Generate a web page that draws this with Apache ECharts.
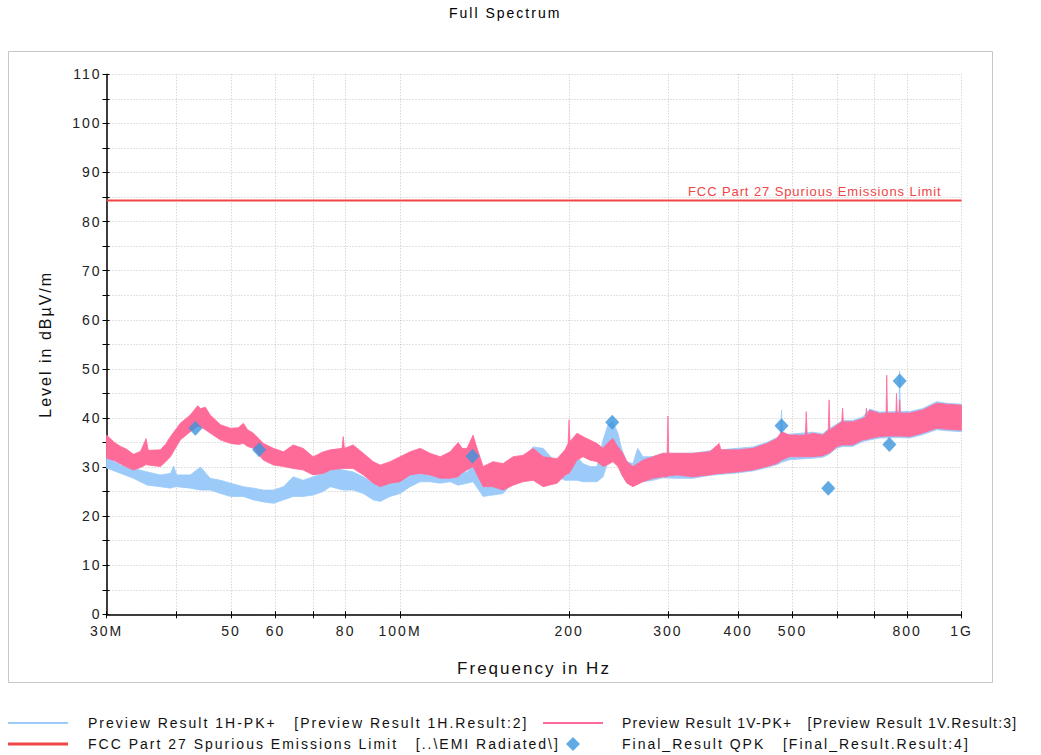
<!DOCTYPE html>
<html><head><meta charset="utf-8">
<script src="https://cdn.jsdelivr.net/npm/echarts@6/dist/echarts.min.js"></script>
<style>html,body{margin:0;padding:0;background:#fff}#c{width:1041px;height:755px}#c text{letter-spacing:2px}#c text[fill="#f04545"]{letter-spacing:0.9px}#c text[fill="#121212"]{letter-spacing:1.2px}</style>
</head><body><div id="c"></div>
<script>
// ---- axis ticks / labels ----
const xTickFreqs = [30,40,50,60,70,80,100,200,300,400,500,600,700,800,1000];
const xLabelFreqs = [30,50,60,80,100,200,300,400,500,800,1000];
const xLabelTexts = ['30M','50','60','80','100M','200','300','400','500','800','1G'];
const yLabelValues = [0,10,20,30,40,50,60,70,80,90,100,110];

// ---- series names ----
const S1H = 'Preview Result 1H-PK+';
const S1V = 'Preview Result 1V-PK+';
const SLIM = 'FCC Part 27 Spurious Emissions Limit';
const SQPK = 'Final_Result QPK';
const legendSuffix = {};
legendSuffix[S1H] = '[Preview Result 1H.Result:2]';
legendSuffix[S1V] = '[Preview Result 1V.Result:3]';
legendSuffix[SLIM] = '[..\\EMI Radiated\\]';
legendSuffix[SQPK] = '[Final_Result.Result:4]';

// ---- Preview 1V (pink) : frequency (MHz), envelope top, envelope bottom (dBuV/m) ----
const vFreq = [30,31,31.8,32.6,33.5,34.5,35.3,35.6,37.4,38.2,39,40.6,42.3,43.6,44.1,45,45.9,47.9,49.9,51.5,52.6,53.5,54.8,57.1,59.5,62,64.5,67.2,70,73,75.1,78.8,79.2,79.6,82.5,86,89.6,92.2,96,100,104.2,108.6,113.1,117.9,122.8,126.9,129,131.6,134.9,137,140.6,146.4,152.6,159,165.6,172.6,179.8,190.4,196.7,199.2,200,200.8,206.6,211.7,217.9,224.3,229.9,234.6,239.4,244.4,248.4,253.6,259.9,270.8,282,293.8,299,300,301,311,332,356,370,373,398,425,450,469,478,494,527,529,531,543,566,579,581,583,599,612,614,616,640,667,675,677,679,686,715,734,736,738,764,766,768,774,776,778,808,852,903,940,1000];
const vTop = [36.5,35.0,34.2,33.6,32.6,33.2,35.8,33.4,33.5,34.6,36.2,38.9,40.6,42.5,41.9,42.2,40.6,38.6,37.9,38.0,38.9,37.6,36.9,34.8,33.8,33.1,34.5,33.8,32.1,33.1,33.5,33.8,36.2,33.8,34.5,32.8,31.1,30.4,31.1,32.1,33.1,33.8,32.8,32.1,33.1,35.0,33.8,33.8,36.5,34.0,30.1,31.1,30.7,32.1,32.4,33.8,32.1,31.7,33.5,34.8,39.6,35.2,36.9,36.2,35.5,34.8,33.8,35.0,35.8,34.1,33.1,31.1,30.1,31.4,32.1,32.8,32.8,40.4,32.8,32.8,32.8,33.1,34.8,33.5,33.5,33.8,34.8,35.8,37.2,36.5,36.5,41.3,36.5,36.9,36.5,37.5,43.7,37.5,38.5,39.2,42.0,39.2,39.2,39.9,40.2,42.0,40.4,41.6,40.9,41.0,48.7,41.0,41.0,45.0,41.0,41.0,43.7,41.0,41.0,41.6,43.0,42.8,42.6];
const vBot = [31.8,31.3,30.6,30.0,29.4,29.9,30.5,30.4,30.1,31.0,32.1,35.5,37.2,38.3,38.2,37.6,36.9,35.5,34.8,34.6,34.8,34.2,33.8,31.4,30.4,30.1,29.7,29.4,28.4,28.7,29.4,29.7,29.7,29.7,29.7,28.4,26.7,26.0,26.7,27.0,28.4,28.7,28.4,27.7,27.7,28.0,28.8,29.4,30.1,28.5,26.0,26.0,25.3,26.3,27.0,27.3,26.0,26.7,28.3,28.7,28.7,29.0,31.4,32.1,31.4,31.1,30.1,30.5,31.1,30.1,28.4,26.7,26.0,27.0,27.7,28.0,28.0,28.2,28.2,28.4,28.0,28.4,28.7,28.7,29.0,29.4,30.1,30.7,31.4,32.1,32.1,32.1,32.1,32.1,32.3,32.8,32.8,32.9,34.1,34.5,34.5,34.5,34.5,35.5,35.6,35.6,35.6,35.8,36.2,36.3,36.3,36.3,36.3,36.3,36.3,36.3,36.3,36.3,36.2,36.9,37.9,37.7,37.5];

// ---- Preview 1H (light blue) ----
const hFreq = [30,31.8,33.5,35.5,37.4,39,39.5,40,42.3,44.1,45.9,47.9,49.9,52.6,54.8,57.1,59.5,62,64.5,67.2,70,73,75.1,79.2,82.5,86,89.6,92.2,96,100,104.2,108.6,113.1,117.9,122.8,126.9,131.6,134.9,140.6,146.4,152.6,159,165.6,172.6,179.8,190.4,196.7,206.6,211.7,217.9,224.3,229.9,234.6,239.4,244.4,248.4,253.6,259.9,265,270.8,282,293.8,311,332,356,398,425,450,469,476,478,480,494,543,566,579,599,614,640,667,686,715,766,774,776,778,808,852,903,940,1000];
const hTop = [32.0,30.4,29.7,29.0,28.4,28.7,30.2,28.4,28.4,30.0,27.7,27.3,26.7,26.0,25.7,25.3,25.3,26.0,28.0,27.3,28.0,28.7,30.1,29.4,29.0,28.0,26.7,26.4,27.4,28.0,28.7,29.7,30.1,30.1,29.0,28.7,29.0,30.4,28.0,26.7,27.3,30.7,31.4,34.1,33.8,30.7,31.4,32.1,30.7,30.1,30.1,35.5,38.6,39.2,36.9,33.5,31.1,30.7,33.8,32.1,32.1,32.8,32.8,32.8,33.3,33.8,34.1,35.0,36.0,36.5,41.6,36.5,36.7,37.1,36.8,37.7,38.7,39.5,39.5,40.2,41.8,41.2,41.3,41.3,49.5,41.3,41.3,41.9,43.3,43.0,42.8];
const hBot = [29.8,28.7,27.7,26.3,26.0,25.7,25.9,26.0,25.7,25.3,25.3,24.6,24.0,24.0,23.3,22.9,22.6,23.3,24.0,24.0,24.3,25.0,26.0,25.3,25.3,24.6,23.3,23.0,24.0,24.6,26.0,27.0,27.0,26.7,27.0,26.3,26.7,27.0,24.0,24.3,24.6,27.0,27.3,29.4,30.1,28.0,27.3,27.3,27.0,27.0,27.0,28.0,31.0,31.5,30.5,28.4,26.7,26.3,27.0,27.0,27.3,27.8,27.7,27.7,28.3,28.8,29.2,29.9,30.5,30.8,31.0,31.0,31.5,31.8,32.0,32.5,33.8,34.2,34.2,35.2,35.5,35.9,36.0,36.0,36.0,36.0,35.9,36.6,37.6,37.4,37.2];

// ---- limit line ----
const limFreq = [30, 1000];
const limVal = [84.3, 84.3];

// ---- final QPK results ----
const qpkFreq = [43.2, 56.1, 134.6, 238.7, 478, 579, 744, 776];
const qpkVal = [37.9, 33.5, 32.2, 39.1, 38.4, 25.7, 34.6, 47.5];

const FONT = "'Liberation Sans', Arial, sans-serif";
const lg = Math.log10;
const C1H = '#9ccbfa', C1V = '#ff6b99', CLIM = '#f04545', CQPK = '#3b95dd';
const GRID = '#c4c4c4';

function band(name, freqs, top, bot, color) {
  return {
    name: name, type: 'custom', silent: true, z: 2,
    data: freqs.map((f, i) => [lg(f), top[i], bot[i]]),
    encode: { x: 0, y: [1, 2] },
    itemStyle: { color: color },
    renderItem: function (params, api) {
      if (params.dataIndex !== 0) return null;
      const pts = [];
      for (let i = 0; i < freqs.length; i++) pts.push(api.coord([lg(freqs[i]), top[i]]));
      for (let i = freqs.length - 1; i >= 0; i--) pts.push(api.coord([lg(freqs[i]), bot[i]]));
      return { type: 'polygon', shape: { points: pts }, style: { fill: color, stroke: color, lineWidth: 0.8 } };
    }
  };
}

function legendOne(left, top, name, icon, w, pad, txtColor) {
  return { left: left, top: top, orient: 'horizontal', itemWidth: w, itemHeight: 14, selectedMode: false,
    data: [{ name: name, icon: icon }],
    formatter: n => n + '   ' + legendSuffix[n],
    textStyle: { fontSize: 14, color: txtColor || '#111', fontFamily: FONT, padding: [0, 0, 0, pad] } };
}

const axisCommonX = { type: 'value', min: lg(30), max: lg(1000), position: 'bottom' };
const chart = echarts.init(document.getElementById('c'), null, { renderer: 'svg' });
chart.setOption({
  animation: false,
  backgroundColor: '#fff',
  textStyle: { fontFamily: FONT },
  title: { text: 'Full Spectrum', left: 444, top: 1,
    textStyle: { fontSize: 14, fontWeight: 'normal', color: '#000', fontFamily: FONT } },
  graphic: [{ type: 'rect', shape: { x: 8.5, y: 51.5, width: 984, height: 631 },
    style: { fill: 'none', stroke: '#c6c6c6', lineWidth: 1 }, z: -10, silent: true }],
  grid: { left: 106.5, right: 1041 - 961.5, top: 74.3, bottom: 755 - 614.3, containLabel: false },
  xAxis: [
    Object.assign({}, axisCommonX, {
      name: 'Frequency in Hz', nameLocation: 'middle', nameGap: 46,
      nameTextStyle: { fontSize: 17, color: '#111', fontFamily: FONT },
      axisLine: { show: true, onZero: false, lineStyle: { color: '#000', width: 1.5 } },
      axisTick: { show: true, inside: false, length: 4, customValues: xTickFreqs.map(lg), lineStyle: { color: '#000', width: 1 } },
      axisLabel: { show: true, margin: 10, fontSize: 14, color: '#222', fontFamily: FONT,
        customValues: xLabelFreqs.map(lg),
        formatter: v => { for (let i = 0; i < xLabelFreqs.length; i++) { if (Math.abs(lg(xLabelFreqs[i]) - v) < 1e-6) return xLabelTexts[i]; } return ''; } },
      splitLine: { show: true, lineStyle: { color: GRID, type: [1, 2], width: 1 } }
    }),
    Object.assign({}, axisCommonX, {
      axisLine: { show: false }, axisLabel: { show: false }, splitLine: { show: false },
      axisTick: { show: true, inside: true, length: 3, customValues: xTickFreqs.map(lg), lineStyle: { color: '#000', width: 1 } }
    })
  ],
  yAxis: [
    { type: 'value', min: 0, max: 110, interval: 5, position: 'left',
      name: 'Level in dBµV/m', nameLocation: 'middle', nameGap: 53, nameRotate: 90,
      nameTextStyle: { fontSize: 16, color: '#111', fontFamily: FONT },
      axisLine: { show: true, onZero: false, lineStyle: { color: '#000', width: 1.5 } },
      axisTick: { show: true, inside: false, length: 4, lineStyle: { color: '#000', width: 1 } },
      axisLabel: { margin: 5, fontSize: 14, color: '#222', fontFamily: FONT,
        formatter: v => (yLabelValues.indexOf(v) >= 0 ? String(v) : '') },
      splitLine: { show: true, lineStyle: { color: GRID, type: [1, 2], width: 1 } }
    },
    { type: 'value', min: 0, max: 110, interval: 5, position: 'left',
      axisLine: { show: false }, axisLabel: { show: false }, splitLine: { show: false },
      axisTick: { show: true, inside: true, length: 3, lineStyle: { color: '#000', width: 1 } }
    }
  ],
  legend: [
    legendOne(3, 711, S1H, 'path://M0,0H60V2H0Z', 60, 15),
    legendOne(3, 732, SLIM, 'path://M0,0H60V3H0Z', 60, 15),
    legendOne(538, 711, S1V, 'path://M0,0H60V2H0Z', 60, 14, '#121212'),
    legendOne(561, 732, SQPK, 'diamond', 14, 37)
  ],
  series: [
    band(S1H, hFreq, hTop, hBot, C1H),
    band(S1V, vFreq, vTop, vBot, C1V),
    { name: SLIM, type: 'line', symbol: 'circle', symbolSize: 0.01, showSymbol: true, silent: true,
       data: limFreq.map((f, i) => [lg(f), limVal[i]]),
       itemStyle: { color: CLIM }, lineStyle: { color: CLIM, width: 2 }, z: 3,
       label: { show: true, position: 'left', distance: 20, offset: [0, -9], fontSize: 13, color: CLIM, fontFamily: FONT,
         formatter: p => (p.dataIndex === limFreq.length - 1 ? SLIM : '') } },
    { name: SQPK, type: 'scatter', symbol: 'diamond', symbolSize: [14, 15], silent: true,
       data: qpkFreq.map((f, i) => [lg(f), qpkVal[i]]), itemStyle: { color: CQPK }, z: 4 }
  ]
});
</script></body></html>
